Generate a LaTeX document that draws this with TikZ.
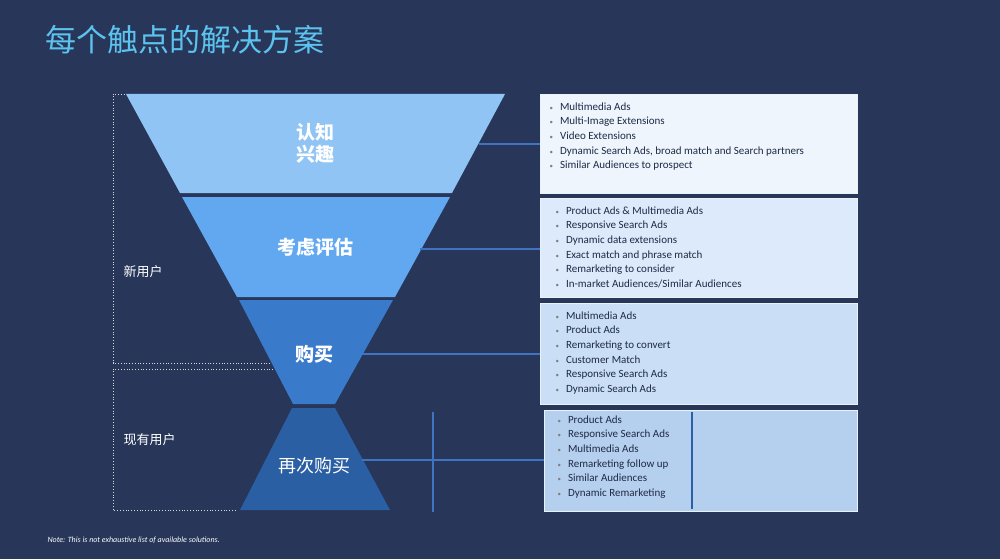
\documentclass[tikz,border=0pt]{standalone}
\usepackage{fontspec}
\setmainfont{Carlito}
\newfontfamily\cjk{Noto Sans CJK SC}
\usetikzlibrary{positioning}
\definecolor{bgdark}{HTML}{273659}
\definecolor{titlecyan}{HTML}{5CC3EE}
\definecolor{layerA}{HTML}{90C4F4}
\definecolor{layerB}{HTML}{62A8F0}
\definecolor{layerC}{HTML}{3A7ACB}
\definecolor{layerD}{HTML}{2B5FA3}
\definecolor{boxA}{HTML}{EEF5FC}
\definecolor{boxB}{HTML}{DCEAFB}
\definecolor{boxC}{HTML}{CADEF6}
\definecolor{boxD}{HTML}{B5CFEE}
\definecolor{txtdark}{HTML}{1E2A45}
\definecolor{linkblue}{HTML}{3F74C2}
\newcommand{\itm}[1]{{\color{gray}\fontsize{7}{7}\selectfont\textbullet}\hspace{7pt}#1}

\begin{document}
\begin{tikzpicture}[x=1pt,y=-1pt,
  stage/.style={font=\cjk\bfseries\fontsize{19}{22}\selectfont, text=white, align=center},
  group/.style={font=\cjk\fontsize{13}{15}\selectfont, text=white, anchor=west},
  adlist/.style={font=\fontsize{11}{14.7}\selectfont, text=txtdark, align=left, anchor=north west},
  solbox/.style={draw=white!70!boxD, line width=0.8pt},
  link/.style={draw=linkblue, line width=1.2pt},
  bracket/.style={draw=white!80!bgdark, dotted, line width=0.8pt}]

  \fill[bgdark] (0,0) rectangle (1000,559);
  \useasboundingbox (0,0) rectangle (1000,559);

  % ── Title ───────────────────────────────────────────
  \node[anchor=west, text=titlecyan, font=\cjk\fontsize{31}{34}\selectfont] (title) at (42,40) {每个触点的解决方案};

  % ── Funnel layers ───────────────────────────────────
  \fill[layerA] (126,94) -- (505,94) -- (452,193) -- (180,193) -- cycle;
  \fill[layerB] (182,197) -- (450,197) -- (395,297) -- (237,297) -- cycle;
  \fill[layerC] (239,300) -- (393,300) -- (335,404) -- (293,404) -- cycle;
  \fill[layerD] (292,408) -- (335,408) -- (390,510) -- (240,510) -- cycle;

  \node[stage] (aware)    at (315,143) {认知\\兴趣};
  \node[stage] (consider) at (315,247) {考虑评估};
  \node[stage] (buy)      at (314,354) {购买};
  \node[stage, font=\cjk\fontsize{18}{22}\selectfont] (rebuy) at (314,466) {再次购买};

  % ── User groups (dotted brackets) ───────────────────
  \draw[bracket] (270,363) -- (113,363) -- (113,94) -- (126,94);
  \draw[bracket] (273,369) -- (113,369) -- (113,510) -- (235,510);
  \node[group] (newuser) at (120,272) {新用户};
  \node[group] (olduser) at (120,440) {现有用户};

  % ── Solution boxes ──────────────────────────────────
  \filldraw[solbox, fill=boxA] (540,94)  rectangle (857,193);
  \filldraw[solbox, fill=boxB] (540,198) rectangle (857,297);
  \filldraw[solbox, fill=boxC] (540,303) rectangle (857,404);
  \filldraw[solbox, fill=boxD] (544,410) rectangle (857,511);
  \draw[line width=1.2pt, draw=layerD] (692,412) -- (692,509);

  \node[adlist] (listA) at (546,99) {\itm{Multimedia Ads}\\ \itm{Multi-Image Extensions}\\ \itm{Video Extensions}\\
    \itm{Dynamic Search Ads, broad match and Search partners}\\ \itm{Similar Audiences to prospect}};
  \node[adlist] (listB) at (552,203) {\itm{Product Ads \& Multimedia Ads}\\ \itm{Responsive Search Ads}\\ \itm{Dynamic data extensions}\\
    \itm{Exact match and phrase match}\\ \itm{Remarketing to consider}\\ \itm{In-market Audiences/Similar Audiences}};
  \node[adlist] (listC) at (552,308) {\itm{Multimedia Ads}\\ \itm{Product Ads}\\ \itm{Remarketing to convert}\\
    \itm{Customer Match}\\ \itm{Responsive Search Ads}\\ \itm{Dynamic Search Ads}};
  \node[adlist] (listD) at (554,412) {\itm{Product Ads}\\ \itm{Responsive Search Ads}\\ \itm{Multimedia Ads}\\
    \itm{Remarketing follow up}\\ \itm{Similar Audiences}\\ \itm{Dynamic Remarketing}};

  % ── Links from funnel to boxes ──────────────────────
  \coordinate (edgeA) at (479,144);
  \coordinate (edgeB) at (420,249);
  \coordinate (edgeC) at (362,354);
  \coordinate (edgeD) at (362,460);
  \coordinate (tickTop) at (433,412);
  \coordinate (tickBot) at (433,512);
  \draw[link] (edgeA) -- (540,144);
  \draw[link] (edgeB) -- (540,249);
  \draw[link] (edgeC) -- (540,354);
  \draw[link] (edgeD) -- (544,460);
  \draw[link] (tickTop) -- (tickBot);

  % ── Note ────────────────────────────────────────────
  \node[anchor=west, text=white, font=\itshape\fontsize{8}{9}\selectfont] (note) at (44,540) {Note: This is not exhaustive list of available solutions.};

\end{tikzpicture}
\end{document}
